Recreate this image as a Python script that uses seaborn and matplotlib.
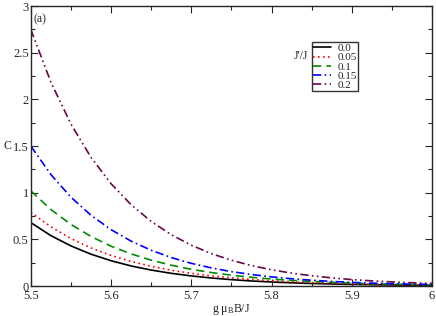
import numpy as np
import pandas as pd
import matplotlib
matplotlib.use('Agg')
import matplotlib.pyplot as plt
import seaborn as sns
from matplotlib.ticker import MultipleLocator, FormatStrFormatter

# field values g muB B / J
field = [5.5, 5.525, 5.55, 5.575, 5.6, 5.625, 5.65, 5.675, 5.7, 5.725, 5.75,
         5.775, 5.8, 5.825, 5.85, 5.875, 5.9, 5.925, 5.95, 5.975, 6.0]

# specific heat C for each J'/J
c_00 = [0.68, 0.54, 0.43, 0.341, 0.271, 0.215, 0.171, 0.136, 0.108, 0.086, 0.068,
        0.054, 0.043, 0.034, 0.027, 0.0216, 0.017, 0.0136, 0.011, 0.0086, 0.0068]
c_005 = [0.79, 0.634, 0.509, 0.408, 0.328, 0.263, 0.211, 0.169, 0.136, 0.109, 0.088,
         0.070, 0.056, 0.045, 0.036, 0.029, 0.023, 0.019, 0.015, 0.012, 0.0096]
c_01 = [1.02, 0.82, 0.66, 0.531, 0.427, 0.344, 0.277, 0.223, 0.179, 0.144, 0.116,
        0.093, 0.075, 0.060, 0.049, 0.039, 0.031, 0.025, 0.020, 0.016, 0.013]
c_015 = [1.50, 1.195, 0.952, 0.758, 0.604, 0.481, 0.383, 0.305, 0.243, 0.194, 0.154,
         0.123, 0.098, 0.078, 0.062, 0.049, 0.039, 0.031, 0.025, 0.020, 0.016]
c_02 = [2.75, 2.185, 1.736, 1.379, 1.096, 0.871, 0.692, 0.55, 0.437, 0.347, 0.276,
        0.219, 0.174, 0.138, 0.110, 0.087, 0.069, 0.055, 0.044, 0.035, 0.028]

ratios = ['0.0', '0.05', '0.1', '0.15', '0.2']
series = [c_00, c_005, c_01, c_015, c_02]

df = pd.concat([pd.DataFrame({'B': field, 'C': s, 'ratio': r})
                for r, s in zip(ratios, series)], ignore_index=True)

colors = {'0.0': 'black', '0.05': '#ff0000', '0.1': '#008b00',
          '0.15': '#0000ff', '0.2': '#670748'}
dashes = {'0.0': '', '0.05': (1, 2), '0.1': (5, 3),
          '0.15': (5, 2, 1, 2), '0.2': (5, 2, 1, 2, 1, 2)}

sns.set_style('ticks')
plt.rcParams['font.family'] = ['Liberation Serif', 'DejaVu Serif']
plt.rcParams['mathtext.fontset'] = 'custom'
plt.rcParams['mathtext.rm'] = 'Liberation Serif'
plt.rcParams['mathtext.it'] = 'Liberation Serif:italic'

fig = plt.figure(figsize=(4.36, 3.16), dpi=100)
ax = fig.add_axes([0.0706, 0.0949, 0.9204, 0.886])

sns.lineplot(data=df, x='B', y='C', hue='ratio', style='ratio',
             hue_order=ratios, style_order=ratios,
             palette=colors, dashes=dashes, linewidth=1.2, ax=ax)

ax.set_xlim(5.5, 6.0)
ax.set_ylim(0, 3)
ax.xaxis.set_major_locator(MultipleLocator(0.1))
ax.xaxis.set_minor_locator(MultipleLocator(0.05))
ax.yaxis.set_major_locator(MultipleLocator(0.5))
ax.yaxis.set_minor_locator(MultipleLocator(0.25))
ax.xaxis.set_major_formatter(FormatStrFormatter('%g'))
ax.yaxis.set_major_formatter(FormatStrFormatter('%g'))
ax.tick_params(which='both', direction='in', top=True, right=True,
               labelsize=9, width=0.8)
ax.tick_params(axis='y', pad=1.5)
ax.tick_params(axis='x', pad=3)
ax.tick_params(which='major', length=5)
ax.tick_params(which='minor', length=3)
for sp in ax.spines.values():
    sp.set_linewidth(1.0)
    sp.set_visible(True)

ax.set_xlabel('g μ$_{\\rm B}$B/J', fontsize=8.5, labelpad=0)
ax.set_ylabel('C', fontsize=8.5, rotation=0, ha='center', va='center')
ax.yaxis.set_label_coords(-0.059, 0.5)

handles, labels = ax.get_legend_handles_labels()
leg = ax.legend(handles, labels, loc='upper left', bbox_to_anchor=(0.70, 0.871),
                prop={'size': 8}, frameon=True, fancybox=False,
                edgecolor='black', handlelength=1.6, handletextpad=0.6,
                borderpad=0.12, labelspacing=-0.05, borderaxespad=0)
leg.get_frame().set_linewidth(1.0)

ax.text(0.672, 0.82, "J'/J", transform=ax.transAxes, fontsize=8.5,
        ha='center', va='center')
ax.text(0.008, 0.975, '(a)', transform=ax.transAxes, fontsize=8.5,
        ha='left', va='top')

fig.savefig('out.png', dpi=100)
